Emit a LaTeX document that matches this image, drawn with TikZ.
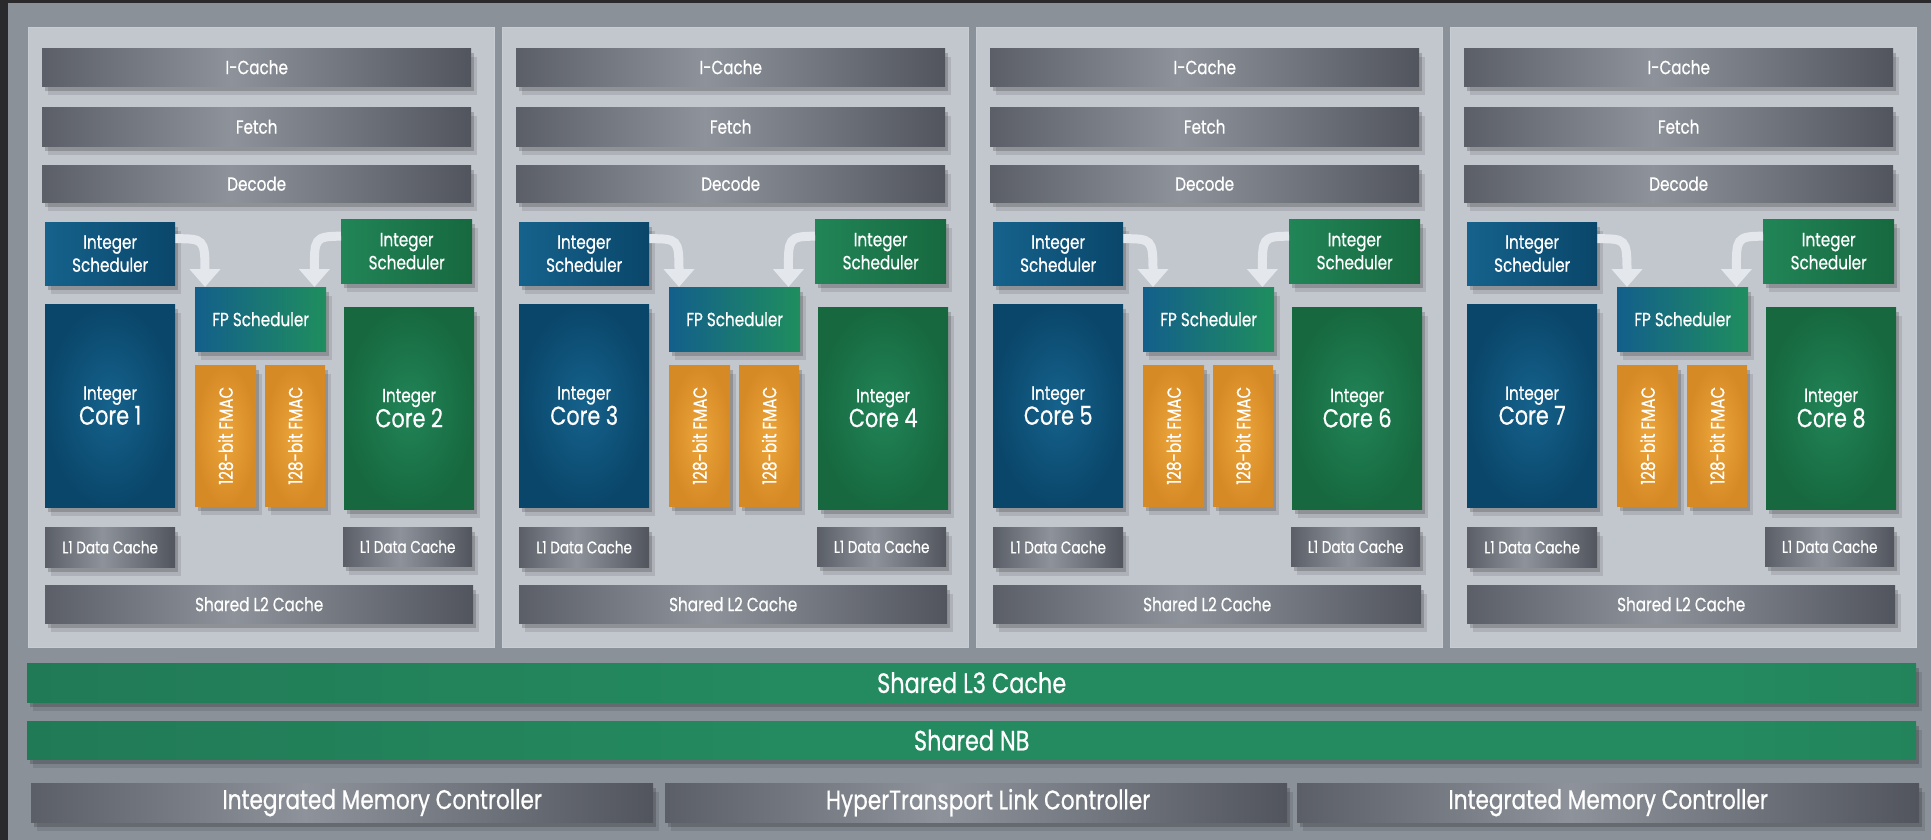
\documentclass[tikz,border=0pt]{standalone}
\usepackage{fontspec}
\setmainfont{Poppins}[FakeStretch=0.8,FakeBold=0.6]
\usetikzlibrary{shadows,arrows.meta,calc}
\definecolor{bgc}{HTML}{8B9199}
\definecolor{framedark}{HTML}{2A2A2D}
\definecolor{panelc}{HTML}{C2C7CE}
\definecolor{panelb}{HTML}{C8CCD3}
\definecolor{bardk}{HTML}{4B4E57}
\definecolor{barlt}{HTML}{8E939B}
\definecolor{bluelt}{HTML}{15628C}
\definecolor{bluedk}{HTML}{0A466A}
\definecolor{greenlt}{HTML}{218557}
\definecolor{greendk}{HTML}{17683F}
\definecolor{orangelt}{HTML}{EDA53A}
\definecolor{orangedk}{HTML}{D68A26}
\definecolor{fpblue}{HTML}{135F8B}
\definecolor{fpgreen}{HTML}{1F8E5E}
\definecolor{gdk}{HTML}{1D664A}
\definecolor{glt}{HTML}{248A5F}
\definecolor{arrowc}{HTML}{E4E8ED}
\pgfdeclarehorizontalshading{barshade}{100bp}{color(0bp)=(bardk); color(18bp)=(bardk); color(47bp)=(barlt); color(78bp)=(bardk); color(100bp)=(bardk)}
\pgfdeclarehorizontalshading{greenshade}{100bp}{color(0bp)=(gdk); color(45bp)=(glt); color(70bp)=(glt); color(100bp)=(gdk)}
\newcommand\mybox[7]{%
  \pgfmathsetmacro\bw{#5-#3}%
  \pgfmathsetmacro\bh{#6-#4}%
  \node[#1,anchor=north west,minimum width=\bw pt,minimum height=\bh pt] (#2) at (\X+#3,#4) {#7};}
\begin{document}
\begin{tikzpicture}[x=1pt,y=-1pt,
  font=\fontsize{19}{23}\selectfont,
  shd/.style={drop shadow={shadow xshift=3pt,shadow yshift=-5pt,opacity=.18,fill=black},
              drop shadow={shadow xshift=6pt,shadow yshift=-9pt,opacity=.10,fill=black}},
  blk/.style={inner sep=0pt,align=center,text=white,shd},
  panel/.style={inner sep=0pt,fill=panelc,draw=panelb,line width=1pt},
  bar/.style={blk,shade,shading=barshade},
  gbar/.style={blk,shade,shading=greenshade,font=\fontsize{28}{30}\selectfont},
  lbar/.style={bar,font=\fontsize{27}{30}\selectfont},
  bluesch/.style={blk,left color=bluelt,right color=bluedk},
  greensch/.style={blk,left color=greenlt,right color=greendk},
  bluecore/.style={blk,inner color=bluelt,outer color=bluedk},
  greencore/.style={blk,inner color=greenlt,outer color=greendk},
  fpsch/.style={blk,left color=fpblue,right color=fpgreen},
  fmac/.style={blk,inner color=orangelt,outer color=orangedk},
  l1/.style={bar,font=\fontsize{17}{20}\selectfont},
  arr/.style={draw=arrowc,line width=9pt,-{Triangle[width=30pt,length=18pt]}}
]
\useasboundingbox (0,0) rectangle (1931,840);
\fill[bgc] (0,0) rectangle (1931,840);
\fill[framedark] (0,0) rectangle (1931,3);
\fill[framedark] (0,0) rectangle (8,840);

\foreach \m in {1,2,3,4}{
  \pgfmathsetmacro\X{28+474*(\m-1)}
  \pgfmathtruncatemacro\ca{2*\m-1}
  \pgfmathtruncatemacro\cb{2*\m}
  \mybox{panel}{mod\m}{0}{27}{466}{647}{}
  \mybox{bar}{ic\m}{14}{48}{443}{86}{I-Cache}
  \mybox{bar}{fe\m}{14}{107}{443}{146}{Fetch}
  \mybox{bar}{de\m}{14}{165}{443}{202}{Decode}
  \mybox{bluesch}{isl\m}{17}{222}{147}{285}{Integer\\Scheduler}
  \mybox{greensch}{isr\m}{313}{219}{444}{283}{Integer\\Scheduler}
  \mybox{fpsch}{fp\m}{167}{287}{298}{351}{FP Scheduler}
  \mybox{bluecore}{cl\m}{17}{304}{147}{507}{Integer\\{\fontsize{26}{26}\selectfont Core \ca}}
  \mybox{fmac}{fma\m}{167}{365}{228}{506}{\rotatebox{90}{128-bit FMAC}}
  \mybox{fmac}{fmb\m}{237}{365}{297}{506}{\rotatebox{90}{128-bit FMAC}}
  \mybox{greencore}{cr\m}{316}{307}{446}{509}{Integer\\{\fontsize{26}{26}\selectfont Core \cb}}
  \mybox{l1}{la\m}{17}{527}{147}{567}{L1 Data Cache}
  \mybox{l1}{lb\m}{315}{527}{444}{566}{L1 Data Cache}
  \mybox{bar}{l2\m}{17}{585}{445}{623}{Shared L2 Cache}
  \draw[arr] ([yshift=15pt]isl\m.east) .. controls +(28,0) and +(0,-48) .. ([xshift=10pt]fp\m.north west);
  \draw[arr] ([yshift=15pt]isr\m.west) .. controls +(-27,0) and +(0,-48) .. ([xshift=-12pt]fp\m.north east);
}

\def\X{0}
\mybox{gbar}{l3}{27}{663}{1916}{702}{Shared L3 Cache}
\mybox{gbar}{nb}{27}{721}{1916}{759}{Shared NB}
\mybox{lbar}{imca}{31}{783}{653}{822}{\hspace*{80pt}Integrated Memory Controller}
\mybox{lbar}{ht}{665}{783}{1287}{822}{\hspace*{24pt}HyperTransport Link Controller}
\mybox{lbar}{imcb}{1297}{783}{1919}{822}{Integrated Memory Controller}
\end{tikzpicture}
\end{document}
